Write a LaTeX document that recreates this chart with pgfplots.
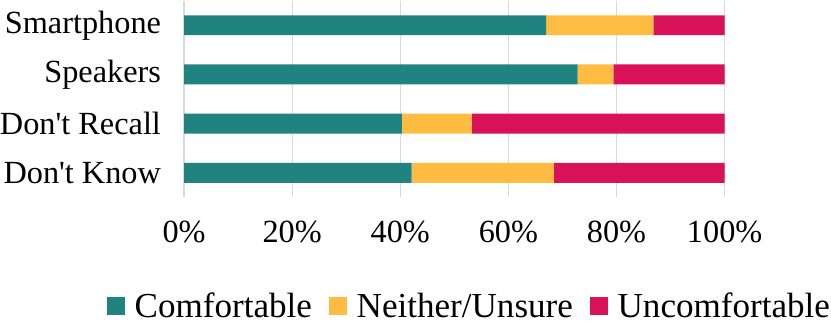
\documentclass[border=0pt]{standalone}
\usepackage{pgfplots}
\pgfplotsset{compat=1.18}
\usepackage{fontspec}
\setmainfont{Liberation Serif}
\definecolor{comf}{HTML}{218380}
\definecolor{neith}{HTML}{FFBC42}
\definecolor{uncomf}{HTML}{D81159}
\definecolor{gridc}{HTML}{D9D9D9}
\begin{document}
\begin{tikzpicture}
\begin{axis}[
  xbar stacked, scale only axis,
  width=544pt, height=198pt,
  xmin=0, xmax=100, ymin=-0.5, ymax=3.5, y dir=reverse,
  ytick={0,1,2,3},
  yticklabels={Smartphone,Speakers,Don\textquotesingle t Recall,Don\textquotesingle t Know},
  xtick={0,20,40,60,80,100},
  xticklabel={\pgfmathprintnumber{\tick}\%},
  /pgf/number format/assume math mode=true,
  xmajorgrids, grid style={color=gridc, line width=1.3pt},
  axis line style={draw=none}, major tick length=0pt,
  tick label style={font=\fontsize{32.5}{37}\selectfont},
  xticklabel style={yshift=-20pt},
  yticklabel style={xshift=-23pt, inner sep=0pt},
  bar width=20pt,
  legend style={at={(-0.145,-0.55)}, anchor=west, legend columns=-1, draw=none,
    inner xsep=1pt, inner ysep=6pt, nodes={inner sep=0pt},
    font=\fontsize{35.3}{40}\selectfont,
    /tikz/every odd column/.append style={column sep=10pt},
    /tikz/every even column/.append style={column sep=17pt}},
  legend image code/.code={\fill[#1] (0pt,-9pt) rectangle (18pt,9pt);},
]
\addplot[fill=comf, draw=none] coordinates {(67.0,0) (72.8,1) (40.3,2) (42.1,3)};
\addplot[fill=neith, draw=none] coordinates {(19.8,0) (6.6,1) (12.9,2) (26.3,3)};
\addplot[fill=uncomf, draw=none] coordinates {(13.2,0) (20.6,1) (46.8,2) (31.6,3)};
\legend{Comfortable,Neither/Unsure,Uncomfortable}
\end{axis}
\end{tikzpicture}
\end{document}
